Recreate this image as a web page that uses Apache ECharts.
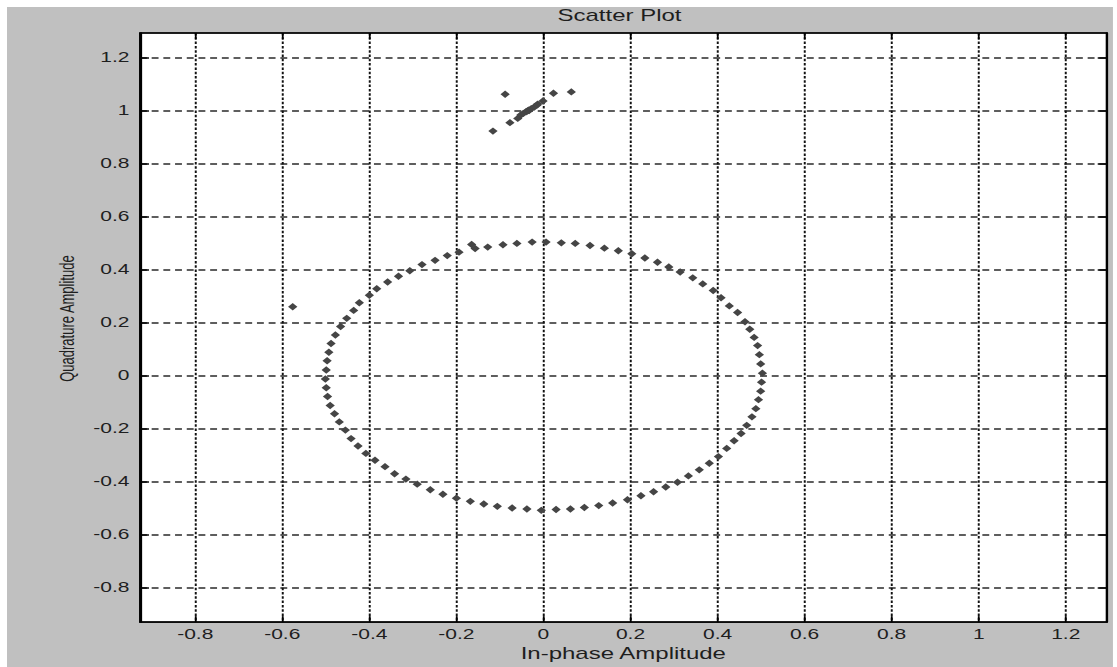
<!DOCTYPE html>
<html>
<head>
<meta charset="utf-8">
<script src="https://cdn.jsdelivr.net/npm/echarts@6/dist/echarts.min.js"></script>
<style>
  html, body { margin: 0; padding: 0; background: #ffffff; overflow: hidden; }
  #chart { width: 745px; height: 667px; transform: scaleX(1.5); transform-origin: 0 0; }
</style>
</head>
<body>
<div id="chart"></div>
<script>
// ---- data ----
const title = 'Scatter Plot';
const xName = 'In-phase Amplitude';
const yName = 'Quadrature Amplitude';
const xTicks = [-0.8, -0.6, -0.4, -0.2, 0, 0.2, 0.4, 0.6, 0.8, 1, 1.2];
const yTicks = [-0.8, -0.6, -0.4, -0.2, 0, 0.2, 0.4, 0.6, 0.8, 1, 1.2];
const xRange = [-0.927, 1.294];
const yRange = [-0.931, 1.2935];

// ring of received symbols (in-phase / quadrature)
const ringI = [
  -0.499, -0.497, -0.493, -0.488, -0.478, -0.466, -0.452, -0.436, -0.423, -0.400,
  -0.383, -0.358, -0.333, -0.307, -0.279, -0.249, -0.221, -0.194, -0.165, -0.157,
  -0.128, -0.093, -0.061, -0.026, 0.006, 0.041, 0.073, 0.107, 0.140, 0.172,
  0.203, 0.233, 0.262, 0.288, 0.314, 0.343, 0.366, 0.390, 0.408, 0.427,
  0.446, 0.463, 0.474, 0.484, 0.492, 0.496, 0.499, 0.503, 0.501, 0.499,
  0.494, 0.488, 0.479, 0.467, 0.454, 0.438, 0.421, 0.402, 0.381, 0.358,
  0.333, 0.308, 0.281, 0.253, 0.224, 0.193, 0.159, 0.127, 0.094, 0.062,
  0.029, -0.005, -0.038, -0.072, -0.106, -0.137, -0.168, -0.200, -0.231, -0.260,
  -0.290, -0.316, -0.342, -0.364, -0.387, -0.408, -0.426, -0.442, -0.455, -0.469,
  -0.480, -0.490, -0.496, -0.499, -0.501
];
const ringQ = [
  0.021, 0.056, 0.088, 0.121, 0.153, 0.185, 0.216, 0.246, 0.275, 0.303,
  0.328, 0.353, 0.375, 0.396, 0.419, 0.435, 0.453, 0.466, 0.495, 0.480,
  0.485, 0.494, 0.499, 0.504, 0.504, 0.501, 0.499, 0.491, 0.481, 0.471,
  0.460, 0.444, 0.428, 0.410, 0.391, 0.369, 0.346, 0.321, 0.294, 0.263,
  0.238, 0.203, 0.175, 0.144, 0.113, 0.079, 0.044, 0.009, -0.025, -0.059,
  -0.091, -0.125, -0.156, -0.188, -0.219, -0.246, -0.275, -0.306, -0.331, -0.356,
  -0.379, -0.403, -0.421, -0.439, -0.454, -0.469, -0.481, -0.491, -0.498, -0.504,
  -0.506, -0.509, -0.504, -0.500, -0.494, -0.485, -0.475, -0.463, -0.448, -0.431,
  -0.410, -0.391, -0.371, -0.344, -0.320, -0.294, -0.266, -0.238, -0.206, -0.175,
  -0.144, -0.113, -0.079, -0.046, -0.013
];
// cluster near (0, 1) and the single outlier
const clusterI = [-0.088, 0.023, 0.064, -0.001, -0.013, -0.059, -0.077, -0.116,
  -0.052, -0.046, -0.040, -0.037, -0.034, -0.033, -0.028, -0.021, -0.015, -0.576];
const clusterQ = [1.062, 1.066, 1.071, 1.037, 1.025, 0.971, 0.955, 0.923,
  0.984, 0.990, 0.996, 0.999, 1.002, 1.001, 1.008, 1.014, 1.021, 0.260];

const pts = [];
ringI.forEach((v, i) => pts.push([v, ringQ[i]]));
clusterI.forEach((v, i) => pts.push([v, clusterQ[i]]));

const fontMain = "'Liberation Sans', Arial, sans-serif";
const txt = '#1e1e1e';
const fmt = v => String(v);

const chart = echarts.init(document.getElementById('chart'), null, { renderer: 'svg' });
chart.setOption({
  animation: false,
  backgroundColor: '#ffffff',
  graphic: {
    elements: [{
      type: 'rect', z: -100, silent: true,
      shape: { x: 4.67, y: 7, width: 737.3, height: 660 },
      style: { fill: '#c0c0c0' }
    }]
  },
  title: {
    text: title,
    left: 408, top: 3, textAlign: 'center',
    textStyle: { fontFamily: fontMain, fontSize: 16, fontWeight: 'normal', color: txt }
  },
  grid: {
    left: 93.3, right: 7.2, top: 33, bottom: 39,
    show: true, backgroundColor: '#ffffff', borderColor: '#000', borderWidth: 1.2,
    containLabel: false
  },
  xAxis: [{
    type: 'value', min: xRange[0], max: xRange[1], position: 'bottom',
    name: xName, nameLocation: 'middle', nameGap: 21,
    nameTextStyle: { fontFamily: fontMain, fontSize: 16, color: txt },
    axisLine: { show: true, onZero: false, lineStyle: { color: '#000', width: 1.5 } },
    axisTick: { show: true, inside: true, length: 6, customValues: xTicks, lineStyle: { color: '#000', width: 1.2 } },
    axisLabel: { show: true, margin: 5, customValues: xTicks, formatter: fmt,
      fontFamily: fontMain, fontSize: 14, color: txt },
    splitLine: { show: true, lineStyle: { color: '#111', width: 1.3, type: [2.5, 1.8] } }
  }, {
    type: 'value', min: xRange[0], max: xRange[1], position: 'top',
    axisLine: { show: true, onZero: false, lineStyle: { color: '#000', width: 1.5 } },
    axisTick: { show: true, inside: true, length: 6, customValues: xTicks, lineStyle: { color: '#000', width: 1.2 } },
    axisLabel: { show: false },
    splitLine: { show: false }
  }],
  yAxis: [{
    type: 'value', min: yRange[0], max: yRange[1], position: 'left',
    name: yName, nameLocation: 'middle', nameGap: 42,
    nameTextStyle: { fontFamily: fontMain, fontSize: 13, color: txt, padding: [0, 0, 0, 18] },
    axisLine: { show: true, onZero: false, lineStyle: { color: '#000', width: 1.5 } },
    axisTick: { show: true, inside: true, length: 6, customValues: yTicks, lineStyle: { color: '#000', width: 1.5 } },
    axisLabel: { show: true, margin: 7, customValues: yTicks, formatter: fmt,
      fontFamily: fontMain, fontSize: 14, color: txt },
    splitLine: { show: true, lineStyle: { color: '#2a2a2a', width: 1.6, type: [4.6, 3.2] } }
  }, {
    type: 'value', min: yRange[0], max: yRange[1], position: 'right',
    axisLine: { show: true, onZero: false, lineStyle: { color: '#000', width: 1.5 } },
    axisTick: { show: true, inside: true, length: 6, customValues: yTicks, lineStyle: { color: '#000', width: 1.5 } },
    axisLabel: { show: false },
    splitLine: { show: false }
  }],
  series: [{
    type: 'scatter',
    xAxisIndex: 0, yAxisIndex: 0,
    data: pts,
    symbol: 'diamond',
    symbolSize: [6.2, 7.4],
    itemStyle: { color: '#454545', opacity: 1 },
    z: 5
  }]
});
</script>
</body>
</html>
